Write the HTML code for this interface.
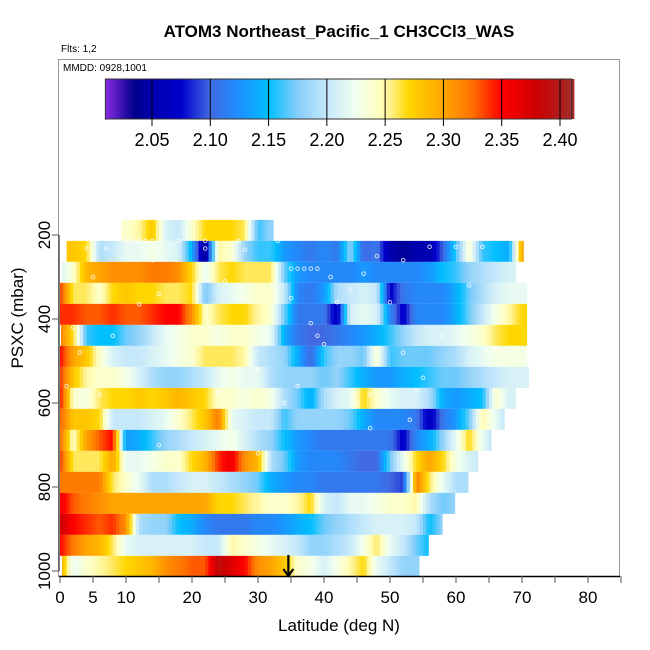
<!DOCTYPE html>
<html><head><meta charset="utf-8"><style>
html,body{margin:0;padding:0;background:#fff;}
svg{display:block;font-family:"Liberation Sans",sans-serif;}
</style></head><body>
<svg id="chart" width="650" height="650" viewBox="0 0 650 650">
<text x="339" y="37" text-anchor="middle" font-size="17" font-weight="bold">ATOM3 Northeast_Pacific_1 CH3CCl3_WAS</text>
<text x="61" y="52" font-size="10">Flts: 1,2</text>
<rect x="58.5" y="59.5" width="561" height="517" fill="none" stroke="#999" stroke-width="1"/>
<text x="63" y="71" font-size="10">MMDD: 0928,1001</text>
<g id="cells"></g>
<g id="points"></g>
<g id="colorbar"></g>
<g id="axes"></g>
<text x="339" y="631" text-anchor="middle" font-size="17">Latitude (deg N)</text>
<text transform="translate(23,318) rotate(-90)" text-anchor="middle" font-size="17">PSXC (mbar)</text>
</svg>
<script>
const rowPressures=[189,239,289,339,389,439,489,539,589,639,689,739,789,839,889,939,989];
const rowStartLat=[9.3,0.9,0.3,0,0,0.15,0,0,0,0,0,0,0,0,0,0,0.3];
const rowEndLat=[32.3,70.2,69.7,70.7,70.7,70.7,70.7,71.4,69.4,67.3,65.3,63.3,61.8,59.8,57.9,55.8,54.4];
const N=null;
const rowValues=[
[N,N,N,N,N,2.24,2.25,2.28,2.21,2.20,2.24,2.27,2.27,2.27,2.26,2.16,2.18],
[N,2.28,2.27,2.19,2.20,2.22,2.22,2.23,2.22,2.21,2.14,2.03,2.25,2.24,2.18,2.16,2.16,2.13,2.12,2.11,2.12,2.11,2.18,2.10,2.11,2.05,2.04,2.05,2.05,2.10,2.16,2.24,2.16,2.15,2.14,2.30],
[2.21,2.24,2.29,2.30,2.31,2.31,2.31,2.32,2.32,2.31,2.27,2.22,2.26,2.27,2.26,2.26,2.26,2.17,2.13,2.12,2.12,2.12,2.12,2.13,2.12,2.12,2.12,2.12,2.13,2.15,2.16,2.18,2.19,2.20,2.21],
[2.34,2.26,2.26,2.24,2.27,2.28,2.27,2.27,2.26,2.26,2.27,2.17,2.21,2.22,2.23,2.24,2.24,2.20,2.12,2.11,2.13,2.19,2.20,2.21,2.20,2.07,2.11,2.12,2.12,2.12,2.14,2.17,2.19,2.21,2.22,2.22],
[2.34,2.34,2.33,2.33,2.34,2.33,2.33,2.34,2.35,2.35,2.31,2.24,2.26,2.27,2.27,2.25,2.24,2.17,2.11,2.11,2.11,2.06,2.21,2.22,2.21,2.12,2.07,2.12,2.12,2.12,2.14,2.17,2.20,2.23,2.25,2.27],
[2.32,2.27,2.16,2.15,2.15,2.17,2.18,2.20,2.22,2.23,2.24,2.24,2.23,2.24,2.24,2.23,2.22,2.14,2.11,2.10,2.10,2.11,2.12,2.13,2.14,2.16,2.18,2.20,2.21,2.21,2.22,2.23,2.24,2.26,2.27,2.27],
[2.35,2.30,2.28,2.24,2.21,2.20,2.20,2.21,2.22,2.23,2.24,2.26,2.26,2.26,2.25,2.20,2.19,2.18,2.14,2.10,2.16,2.18,2.18,2.17,2.24,2.16,2.17,2.17,2.17,2.18,2.19,2.21,2.22,2.23,2.23,2.23],
[2.34,2.28,2.25,2.24,2.24,2.23,2.21,2.19,2.18,2.18,2.19,2.20,2.22,2.23,2.22,2.22,2.19,2.18,2.18,2.18,2.17,2.18,2.16,2.14,2.13,2.13,2.14,2.15,2.16,2.17,2.17,2.18,2.19,2.20,2.21,2.21],
[2.35,2.24,2.23,2.26,2.27,2.27,2.28,2.27,2.28,2.29,2.28,2.27,2.24,2.24,2.23,2.24,2.23,2.19,2.17,2.14,2.19,2.21,2.22,2.27,2.24,2.22,2.21,2.21,2.19,2.14,2.13,2.14,2.15,2.24,2.21],
[2.33,2.28,2.28,2.27,2.20,2.20,2.20,2.21,2.22,2.24,2.26,2.28,2.32,2.22,2.21,2.20,2.20,2.16,2.18,2.18,2.18,2.18,2.17,2.14,2.12,2.12,2.12,2.11,2.06,2.11,2.13,2.17,2.25,2.22,2.19],
[2.33,2.24,2.30,2.33,2.35,2.13,2.14,2.16,2.18,2.19,2.20,2.21,2.22,2.23,2.21,2.19,2.18,2.15,2.13,2.12,2.11,2.11,2.11,2.11,2.11,2.11,2.07,2.12,2.14,2.18,2.22,2.27,2.22,2.19],
[2.34,2.26,2.26,2.26,2.30,2.22,2.22,2.23,2.24,2.24,2.27,2.29,2.34,2.36,2.31,2.29,2.19,2.17,2.13,2.12,2.12,2.12,2.11,2.10,2.10,2.17,2.22,2.27,2.30,2.27,2.23,2.21,2.20],
[2.32,2.32,2.32,2.32,2.26,2.24,2.22,2.19,2.19,2.20,2.21,2.21,2.20,2.19,2.18,2.17,2.14,2.13,2.12,2.12,2.11,2.11,2.11,2.11,2.11,2.10,2.09,2.32,2.26,2.22,2.19,2.19],
[2.36,2.33,2.32,2.31,2.30,2.30,2.30,2.30,2.30,2.30,2.30,2.30,2.27,2.27,2.26,2.25,2.24,2.24,2.25,2.27,2.21,2.20,2.22,2.22,2.23,2.24,2.24,2.25,2.19,2.17,2.18],
[2.38,2.35,2.34,2.33,2.34,2.31,2.19,2.18,2.18,2.15,2.14,2.12,2.11,2.11,2.11,2.12,2.12,2.13,2.14,2.15,2.17,2.18,2.19,2.20,2.21,2.21,2.21,2.20,2.15,2.18],
[2.35,2.32,2.30,2.29,2.26,2.22,2.21,2.21,2.21,2.21,2.21,2.20,2.20,2.25,2.24,2.23,2.22,2.21,2.20,2.18,2.18,2.19,2.20,2.23,2.26,2.22,2.20,2.17,2.15],
[2.30,2.22,2.24,2.25,2.26,2.27,2.28,2.29,2.31,2.32,2.33,2.33,2.39,2.37,2.35,2.31,2.30,2.28,2.24,2.23,2.21,2.23,2.25,2.27,2.22,2.20,2.18,2.18]
];
const pointLat=[10,11,12,13,14,18,22,27,33,4,7,14,22,28,35,36,37,38,39,41,48,56,60,64,52,46,42,38,2,5,15,25,35,44,50,62,3,8,20,30,40,52,66,1,6,24,36,47,54,12,29,39,58,34,45,55,15,30,47,53];
const pointP=[214,214,214,214,214,214,214,214,214,232,232,260,232,235,280,280,280,280,280,300,250,228,228,228,260,292,360,410,420,300,340,310,350,330,360,320,480,440,500,520,460,480,470,560,580,575,560,580,570,365,420,440,440,600,600,540,700,720,660,640];
const cbTicks=[2.05,2.10,2.15,2.20,2.25,2.30,2.35,2.40];
const xTicks=[0,5,10,15,20,25,30,35,40,45,50,55,60,65,70,75,80,85];
const xLabels=[0,5,10,20,30,40,50,60,70,80];
const yTicks=[200,400,600,800,1000];

const NS='http://www.w3.org/2000/svg';
const xOf=lat=>60+6.6*lat;
const yOf=p=>571-(1000-p)*0.42;
const stops=[[2.01,'#8a2be2'],[2.035,'#00008b'],[2.05,'#0000b0'],[2.075,'#0000cd'],[2.10,'#4169e1'],[2.125,'#1e90ff'],[2.15,'#00bfff'],[2.175,'#87cefa'],[2.20,'#c6e8fb'],[2.225,'#f0fff0'],[2.245,'#ffffc0'],[2.255,'#fff08a'],[2.27,'#ffd700'],[2.30,'#ffa500'],[2.325,'#ff7000'],[2.35,'#ff0000'],[2.38,'#cd0000'],[2.41,'#a52a2a']];
function hex(h){return [1,3,5].map(i=>parseInt(h.substr(i,2),16));}
function color(v){
  if(v<=stops[0][0])return stops[0][1];
  for(let i=1;i<stops.length;i++){
    if(v<=stops[i][0]){const a=hex(stops[i-1][1]),b=hex(stops[i][1]);const t=(v-stops[i-1][0])/(stops[i][0]-stops[i-1][0]);
      return 'rgb('+a.map((c,k)=>Math.round(c+(b[k]-c)*t)).join(',')+')';}
  }
  return stops[stops.length-1][1];
}
function mk(tag,attrs,parent){const e=document.createElementNS(NS,tag);for(const k in attrs)e.setAttribute(k,attrs[k]);parent.appendChild(e);return e;}

const cells=document.getElementById('cells');
const SUB=4;
rowValues.forEach((vals,r)=>{
  const y0=yOf(rowPressures[r]-25),y1=yOf(rowPressures[r]+25);
  vals.forEach((v,i)=>{
    if(v===null)return;
    for(let s=0;s<SUB;s++){
      const a=i*2-1+2*s/SUB,b=a+2/SUB;
      const l0=Math.max(a,rowStartLat[r]),l1=Math.min(b,rowEndLat[r]);
      if(l1<=l0)continue;
      // blend toward neighbour bin near the edges (display smoothing only)
      const mid=(a+b)/2-i*2; // -1..1
      const nb=mid<0?vals[i-1]:vals[i+1];
      let cv=v;
      if(nb!==null&&nb!==undefined){cv=v+(nb-v)*Math.abs(mid)*0.5;}
      const c=mk('rect',{x:xOf(l0),y:y0,width:xOf(l1)-xOf(l0)+0.5,height:y1-y0,fill:color(cv)},cells);
      
      
    }
  });
});
const pts=document.getElementById('points');
pointLat.forEach((lat,i)=>{
  const c=mk('circle',{cx:xOf(lat),cy:yOf(pointP[i]),r:1.8,fill:'none',stroke:'#fff','stroke-width':0.9,opacity:0.85},pts);
  
  
});
const cb=document.getElementById('colorbar');
const cbX=v=>152+(v-2.05)*(408/0.35);
for(let v=2.01;v<2.41;v+=0.002){
  const r=mk('rect',{x:cbX(v),y:79,width:cbX(v+0.002)-cbX(v)+0.4,height:40,fill:color(v+0.001)},cb);
  
  
}
mk('rect',{x:cbX(2.01),y:79,width:cbX(2.41)-cbX(2.01),height:40,fill:'none',stroke:'#333','stroke-width':1},cb);
cbTicks.forEach(v=>{
  const l=mk('line',{x1:cbX(v),x2:cbX(v),y1:79,y2:126,stroke:'#000','stroke-width':1},cb);
  
  
  const t=mk('text',{x:cbX(v),y:146,'text-anchor':'middle','font-size':18},cb);
  t.textContent=v.toFixed(2);
  
  
});
const ax=document.getElementById('axes');
mk('line',{x1:59,x2:620,y1:576.5,y2:576.5,stroke:'#000','stroke-width':1.5},ax);
mk('line',{x1:59,x2:59,y1:yOf(200),y2:yOf(1000),stroke:'#555','stroke-width':1.5},ax);
xTicks.forEach(v=>{
  const l=mk('line',{x1:xOf(v),x2:xOf(v),y1:576,y2:583,stroke:'#555','stroke-width':1},ax);
  
  
});
xLabels.forEach(v=>{
  const t=mk('text',{x:xOf(v),y:603,'text-anchor':'middle','font-size':17},ax);
  t.textContent=v;
  
  
});
yTicks.forEach(v=>{
  const l=mk('line',{x1:52,x2:59,y1:yOf(v),y2:yOf(v),stroke:'#555','stroke-width':1},ax);
  
  
  const t=mk('text',{transform:'translate(50,'+yOf(v)+') rotate(-90)','text-anchor':'middle','font-size':17},ax);
  t.textContent=v;
  
  
});
const ar=mk('g',{stroke:'#000','stroke-width':2.2,fill:'none'},ax);


mk('line',{x1:xOf(34.6),x2:xOf(34.6),y1:555,y2:576},ar);
mk('polyline',{points:(xOf(34.6)-5)+',569 '+xOf(34.6)+',576 '+(xOf(34.6)+5)+',569'},ar);
</script>
</body></html>
